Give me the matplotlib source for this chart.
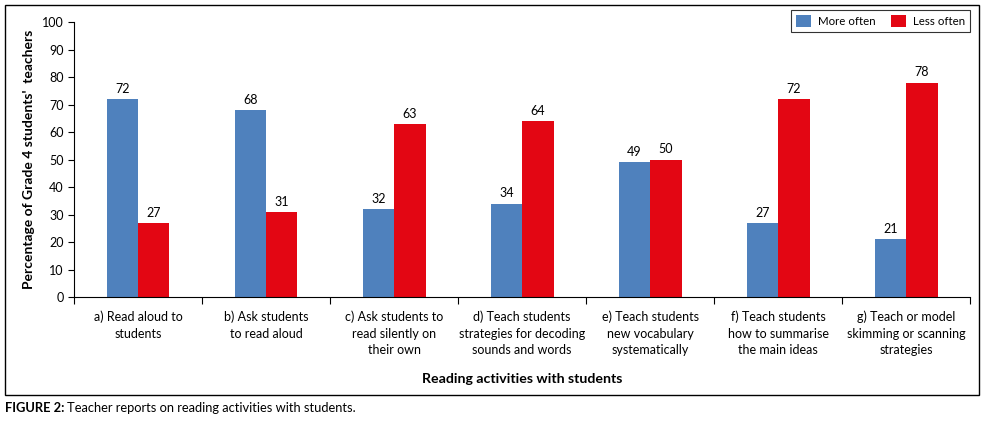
import numpy as np
import matplotlib.pyplot as plt
from matplotlib.patches import Rectangle

categories = [
    "a) Read aloud to\nstudents",
    "b) Ask students\nto read aloud",
    "c) Ask students to\nread silently on\ntheir own",
    "d) Teach students\nstrategies for decoding\nsounds and words",
    "e) Teach students\nnew vocabulary\nsystematically",
    "f) Teach students\nhow to summarise\nthe main ideas",
    "g) Teach or model\nskimming or scanning\nstrategies",
]
more_often = [72, 68, 32, 34, 49, 27, 21]
less_often = [27, 31, 63, 64, 50, 72, 78]
y_ticks = list(range(0, 101, 10))

blue = "#4F81BD"
red = "#E30613"

plt.rcParams['font.family'] = ['Lato', 'DejaVu Sans']

fig = plt.figure(figsize=(9.88, 4.33), dpi=100)
ax = fig.add_axes([0.075, 0.314, 0.907, 0.635])

x = np.arange(len(categories))
w = 0.245
b1 = ax.bar(x - w / 2, more_often, w, color=blue, label="More often")
b2 = ax.bar(x + w / 2, less_often, w, color=red, label="Less often")
for bars in (b1, b2):
    for r in bars:
        ax.text(r.get_x() + r.get_width() / 2, r.get_height() + 1.5, f"{r.get_height():g}",
                ha='center', va='bottom', fontsize=9)

ax.set_xlim(-0.5, len(categories) - 0.5)
ax.set_ylim(0, 100)
ax.set_yticks(y_ticks)
ax.tick_params(axis='y', labelsize=9, length=4, width=0.8)
ax.set_xticks(x)
ax.set_xticklabels(categories, fontsize=9, linespacing=1.45)
ax.tick_params(axis='x', length=0, pad=10)
ax.set_xticks(np.arange(-0.5, len(categories)), minor=True)
ax.tick_params(axis='x', which='minor', length=5, width=0.8)
for s in ('top', 'right'):
    ax.spines[s].set_visible(False)
for s in ('left', 'bottom'):
    ax.spines[s].set_linewidth(0.8)

ax.set_ylabel("Percentage of Grade 4 students'  teachers", fontsize=10, fontweight='bold', labelpad=5)
ax.set_xlabel("Reading activities with students", fontsize=10.2, fontweight='bold', labelpad=12)

leg = ax.legend(loc='upper right', bbox_to_anchor=(1.006, 1.065), ncol=2, fontsize=8.3,
                frameon=True, fancybox=False, edgecolor='black', handlelength=1.3,
                handleheight=1.2, columnspacing=1.3, borderpad=0.45, handletextpad=0.6)
leg.get_frame().set_linewidth(0.8)

fig.patches.append(Rectangle((5 / 988, 1 - 395 / 433), 974 / 988, 390 / 433,
                             transform=fig.transFigure, fill=False, edgecolor='black', linewidth=1))

t1 = fig.text(5 / 988, 1 - 408 / 433, "FIGURE 2:", fontsize=9.3, fontweight='bold', va='center')
fig.text(67 / 988, 1 - 408 / 433, "Teacher reports on reading activities with students.",
         fontsize=9.3, va='center')

fig.savefig("out.png", dpi=100)
